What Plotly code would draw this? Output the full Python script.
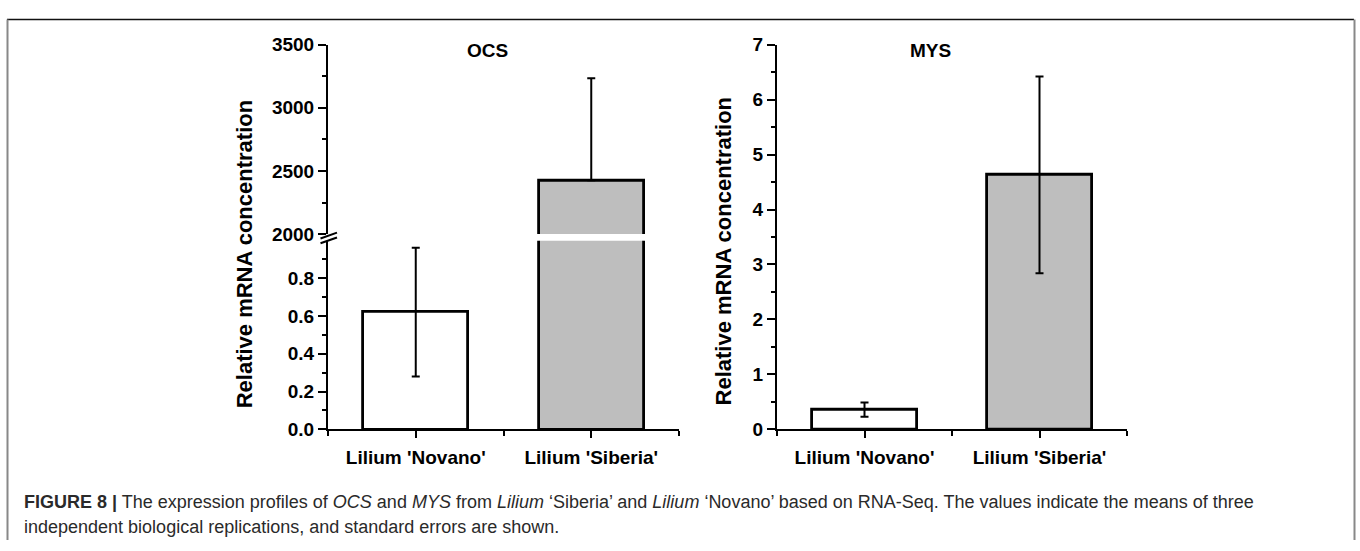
import plotly.graph_objects as go

# ---------------- data ----------------
categories = ["Lilium 'Novano'", "Lilium 'Siberia'"]
ocs_mean = [0.62, 2427]
ocs_se = [0.34, 806]
mys_mean = [0.36, 4.63]
mys_se = [0.13, 1.79]
bar_colors = ["#FFFFFF", "#BEBEBE"]
ocs_low_ticks = [0.0, 0.2, 0.4, 0.6, 0.8]
ocs_high_ticks = [2000, 2500, 3000, 3500]
mys_ticks = [0, 1, 2, 3, 4, 5, 6, 7]

W, H = 1360, 551
def px(p):
    return p / W
def py(p):
    return 1 - p / H

x_pos = list(range(1, len(categories) + 1))
FONT = "Arial, Liberation Sans, Helvetica, sans-serif"

fig = go.Figure()

def bar(y, err, errminus, xa, ya):
    return go.Bar(
        x=x_pos, y=y, width=0.6,
        marker=dict(color=bar_colors, line=dict(color="black", width=2.8)),
        error_y=dict(type="data", array=err, arrayminus=errminus, symmetric=False,
                     color="black", thickness=2, width=4),
        xaxis=xa, yaxis=ya, showlegend=False, hoverinfo="skip",
    )

# OCS lower segment
fig.add_trace(bar(ocs_mean, ocs_se, ocs_se, "x", "y"))
# OCS upper segment (lower half of error hidden inside the broken bar)
fig.add_trace(bar(ocs_mean, ocs_se, [0] * len(ocs_se), "x2", "y2"))
# MYS
fig.add_trace(bar(mys_mean, mys_se, mys_se, "x3", "y3"))

tickfont = dict(family=FONT, size=19, color="black", weight="bold")
axis_common = dict(showline=True, linecolor="black", linewidth=2, ticks="outside",
                   ticklen=8, tickwidth=2, tickcolor="black", showgrid=False,
                   zeroline=False, tickfont=tickfont)

ocs_dom_x = [px(328), px(679)]
mys_dom_x = [px(777), px(1127)]

xcommon = dict(axis_common, range=[0.5, 2.5], tickmode="array", tickvals=x_pos,
               ticktext=categories, ticklen=7, ticklabelstandoff=3,
               minor=dict(tickmode="array", tickvals=[0.5, 1.5, 2.5], ticks="outside",
                          ticklen=5, tickwidth=2, tickcolor="black"))

fig.update_layout(
    width=W, height=H,
    margin=dict(l=0, r=0, t=0, b=0),
    paper_bgcolor="white", plot_bgcolor="rgba(0,0,0,0)",
    bargap=0,
    xaxis=dict(xcommon, domain=ocs_dom_x, anchor="y"),
    yaxis=dict(axis_common, domain=[py(436), py(240)], range=[0, 0.997], anchor="x",
               tickmode="array", tickvals=ocs_low_ticks, tickformat=".1f",
               minor=dict(tickmode="array", tickvals=[0.1, 0.3, 0.5, 0.7, 0.9], ticks="outside",
                          ticklen=4, tickwidth=2, tickcolor="black")),
    xaxis2=dict(domain=ocs_dom_x, anchor="y2", range=[0.5, 2.5], visible=False),
    yaxis2=dict(axis_common, domain=[py(233), py(36)], range=[2000, 3500], anchor="x2",
                tickmode="array", tickvals=ocs_high_ticks,
                minor=dict(tickmode="array", tickvals=[2250, 2750, 3250], ticks="outside",
                           ticklen=4, tickwidth=2, tickcolor="black")),
    xaxis3=dict(xcommon, domain=mys_dom_x, anchor="y3"),
    yaxis3=dict(axis_common, domain=[py(436), py(36)], range=[0, 7], anchor="x3",
                tickmode="array", tickvals=mys_ticks,
                minor=dict(tickmode="array", tickvals=[0.5 + i for i in range(7)], ticks="outside",
                           ticklen=4, tickwidth=2, tickcolor="black")),
)

ann = []
title_font = dict(family=FONT, size=19, color="black", weight="bold")
for txt, xc in [("OCS", 487), ("MYS", 930)]:
    ann.append(dict(text=txt, x=px(xc), y=py(42), xref="paper", yref="paper",
                    xanchor="center", yanchor="middle", showarrow=False, font=title_font))
# y titles
for xc, yc in [(244, 254), (723, 251)]:
    ann.append(dict(text="Relative mRNA concentration", x=px(xc), y=py(yc),
                    xref="paper", yref="paper", xanchor="center", yanchor="middle",
                    showarrow=False, textangle=-90,
                    font=dict(family=FONT, size=22, color="black", weight="bold")))
# caption
cap_font = dict(family=FONT, size=18, color="#2a2a2a")
ann.append(dict(
    text="<b>FIGURE 8 |</b> The expression profiles of <i>OCS</i> and <i>MYS</i> from "
         "<i>Lilium</i> \u2018Siberia\u2019 and <i>Lilium</i> \u2018Novano\u2019 based on RNA-Seq. "
         "The values indicate the means of three",
    x=px(22), y=py(511), xref="paper", yref="paper", xanchor="left", yanchor="middle",
    showarrow=False, font=cap_font))
ann.append(dict(
    text="independent biological replications, and standard errors are shown.",
    x=px(22), y=py(537), xref="paper", yref="paper", xanchor="left", yanchor="middle",
    showarrow=False, font=cap_font))
fig.update_layout(annotations=ann)

shapes = []
# frame
shapes.append(dict(type="line", xref="paper", yref="paper", x0=px(7), x1=px(1354),
                   y0=py(10), y1=py(10), line=dict(color="#111111", width=1.5)))
shapes.append(dict(type="line", xref="paper", yref="paper", x0=px(7.5), x1=px(7.5),
                   y0=py(10), y1=0, line=dict(color="#888888", width=2)))
shapes.append(dict(type="line", xref="paper", yref="paper", x0=px(1354.5), x1=px(1354.5),
                   y0=py(10), y1=0, line=dict(color="#888888", width=2)))
# axis break marks
for dy in (0, 5):
    shapes.append(dict(type="line", xref="paper", yref="paper",
                       x0=px(320.5), y0=py(237.5 + dy), x1=px(337), y1=py(231.5 + dy),
                       line=dict(color="black", width=2)))
fig.update_layout(shapes=shapes)

fig.write_html(
    "out.html",
    post_script="document.body.style.margin='0';document.body.style.overflow='hidden';",
)
